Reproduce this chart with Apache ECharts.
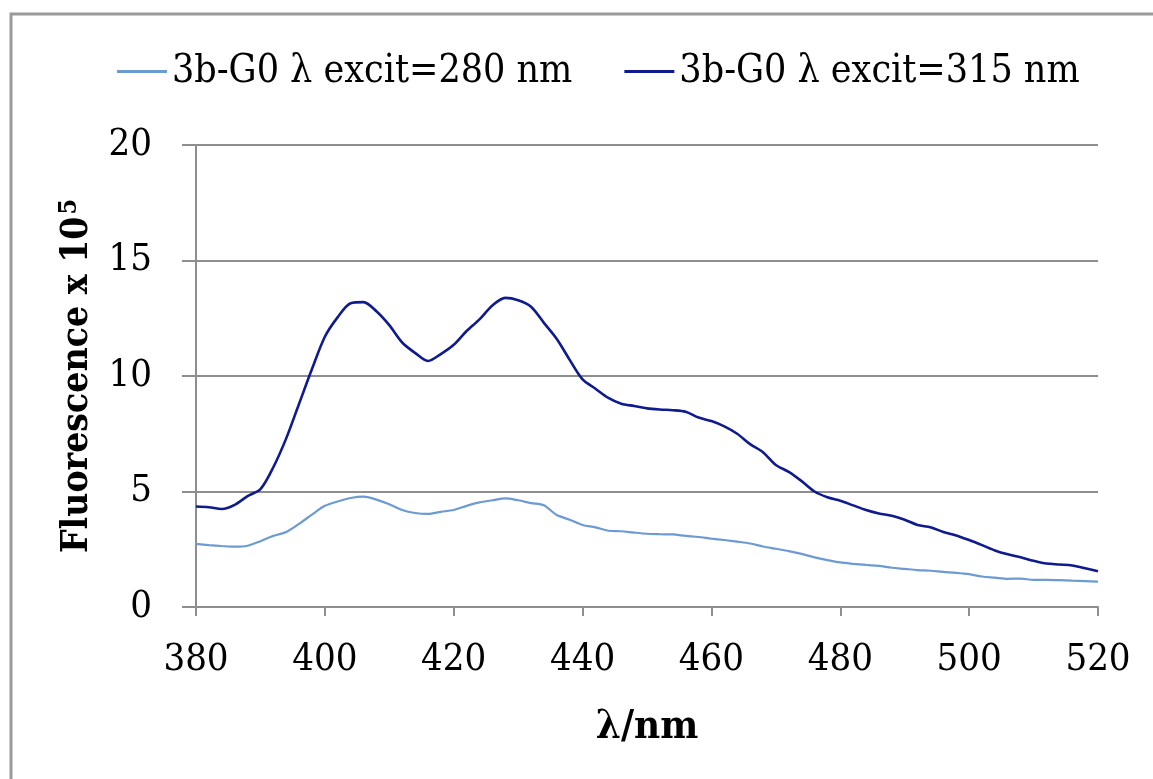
<!DOCTYPE html>
<html>
<head>
<meta charset="utf-8">
<script src="https://cdn.jsdelivr.net/npm/echarts@6/dist/echarts.min.js"></script>
<style>
html,body{margin:0;padding:0;background:#fff;}
#chart{width:1153px;height:779px;}
</style>
</head>
<body>
<div id="chart"></div>
<script>
const wavelengths = [380,382,384,386,388,390,392,394,396,398,400,402,404,406,408,410,412,414,416,418,420,422,424,426,428,430,432,434,436,438,440,442,444,446,448,450,452,454,456,458,460,462,464,466,468,470,472,474,476,478,480,482,484,486,488,490,492,494,496,498,500,502,504,506,508,510,512,514,516,518,520];

const excit280 = [2.73,2.68,2.64,2.61,2.65,2.85,3.08,3.25,3.6,4.0,4.38,4.57,4.72,4.78,4.65,4.45,4.2,4.07,4.03,4.12,4.2,4.38,4.53,4.62,4.7,4.62,4.5,4.4,3.98,3.78,3.55,3.45,3.3,3.28,3.22,3.17,3.15,3.14,3.08,3.03,2.96,2.9,2.83,2.75,2.62,2.52,2.42,2.3,2.15,2.03,1.93,1.87,1.82,1.78,1.7,1.65,1.6,1.57,1.52,1.48,1.42,1.32,1.27,1.22,1.23,1.17,1.17,1.16,1.14,1.12,1.1];

const excit315 = [4.35,4.32,4.24,4.42,4.8,5.1,6.05,7.3,8.8,10.3,11.7,12.55,13.15,13.2,12.8,12.2,11.45,11.0,10.65,10.95,11.35,11.95,12.45,13.05,13.38,13.28,13.0,12.3,11.6,10.7,9.85,9.45,9.05,8.8,8.7,8.6,8.55,8.52,8.45,8.2,8.05,7.82,7.5,7.05,6.7,6.15,5.85,5.45,5.0,4.75,4.6,4.4,4.2,4.05,3.95,3.78,3.55,3.45,3.25,3.1,2.9,2.68,2.45,2.28,2.15,2.0,1.88,1.84,1.8,1.68,1.55];

const seriesNames = ['3b-G0 \u03bb excit=280 nm', '3b-G0 \u03bb excit=315 nm'];
const xTitle = '\u03bb/nm';
const yTitle = 'Fluorescence x 10';
const yTitleSup = '5';

const FONT = '"DejaVu Serif Condensed", "DejaVu Serif", serif';
const GRAY = '#8e8e8e';

const chart = echarts.init(document.getElementById('chart'));
const pairs = arr => wavelengths.map((w, i) => [w, arr[i]]);

chart.setOption({
  animation: false,
  backgroundColor: '#fff',
  textStyle: { fontFamily: FONT },
  graphic: [{
    type: 'rect',
    shape: { x: 11, y: 14, width: 1300, height: 900 },
    style: { fill: 'none', stroke: '#9a9a9a', lineWidth: 3 },
    silent: true
  }],
  legend: {
    left: 112,
    top: 47,
    itemWidth: 50,
    itemHeight: 3,
    itemGap: 52,
    icon: 'rect',
    textStyle: { fontFamily: FONT, fontSize: 39, color: '#000' },
    data: seriesNames
  },
  grid: { left: 196, right: 55, top: 145, bottom: 172, containLabel: false },
  xAxis: {
    type: 'value',
    min: 380, max: 520, interval: 20,
    name: xTitle,
    nameLocation: 'middle',
    nameGap: 101,
    nameTextStyle: { fontFamily: FONT, fontSize: 40, fontWeight: 'bold', color: '#000' },
    axisLine: { show: true, lineStyle: { color: GRAY, width: 2 } },
    axisTick: { show: true, length: 9, lineStyle: { color: GRAY, width: 2 } },
    axisLabel: { fontFamily: FONT, fontSize: 38, color: '#000', margin: 34 },
    splitLine: { show: false }
  },
  yAxis: {
    type: 'value',
    min: 0, max: 20, interval: 5,
    name: '{a|' + yTitle + '}{b|' + yTitleSup + '}',
    nameLocation: 'middle',
    nameGap: 98,
    nameTextStyle: {
      rich: {
        a: { fontFamily: FONT, fontSize: 37, fontWeight: 'bold', color: '#000' },
        b: { fontFamily: FONT, fontSize: 25, fontWeight: 'bold', color: '#000', padding: [0, 0, 16, 2] }
      }
    },
    axisLine: { show: true, lineStyle: { color: GRAY, width: 2 } },
    axisTick: { show: true, length: 14, lineStyle: { color: GRAY, width: 2 } },
    axisLabel: { fontFamily: FONT, fontSize: 38, color: '#000', margin: 44 },
    splitLine: { show: true, lineStyle: { color: GRAY, width: 2 } }
  },
  series: [
    {
      name: seriesNames[0],
      type: 'line',
      data: pairs(excit280),
      symbol: 'none',
      smooth: 0.3,
      lineStyle: { color: '#6c9bd3', width: 2.2 },
      itemStyle: { color: '#6c9bd3' }
    },
    {
      name: seriesNames[1],
      type: 'line',
      data: pairs(excit315),
      symbol: 'none',
      smooth: 0.3,
      lineStyle: { color: '#0f1a8e', width: 2.6 },
      itemStyle: { color: '#0f1a8e' }
    }
  ]
});
</script>
</body>
</html>
